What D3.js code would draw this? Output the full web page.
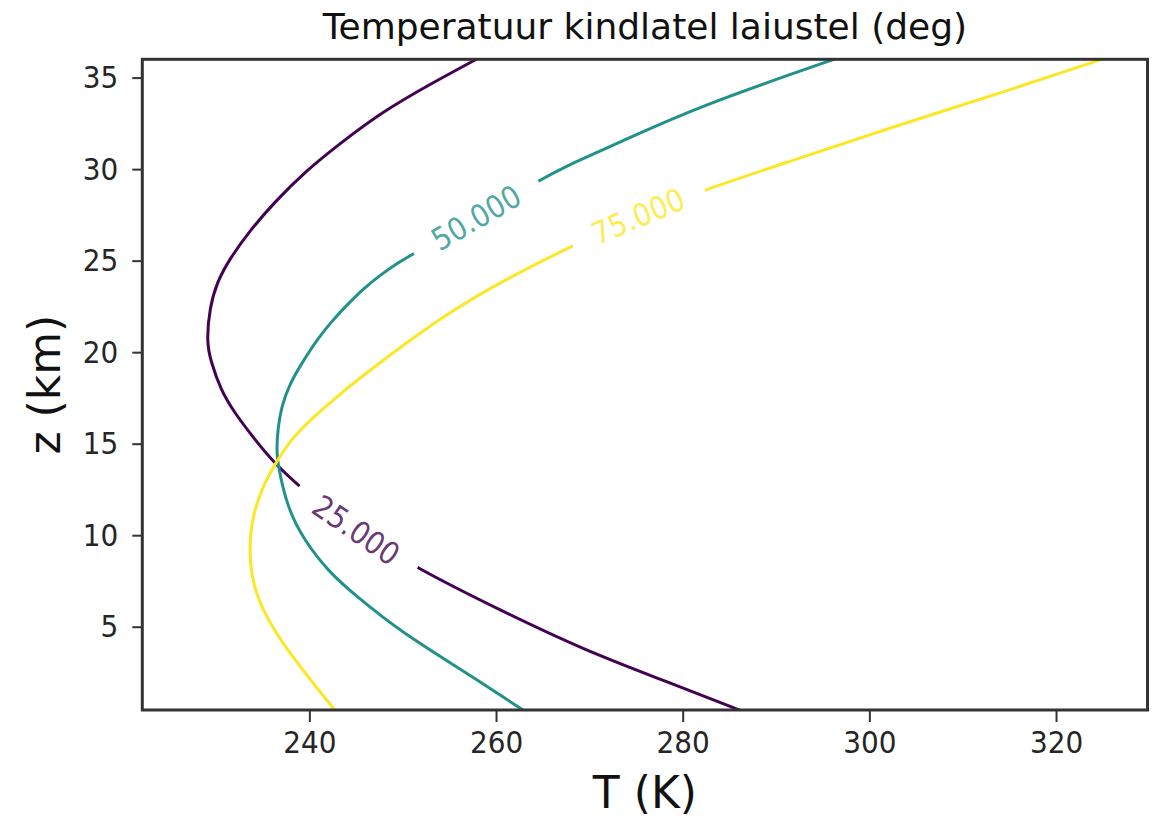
<!DOCTYPE html>
<html>
<head>
<meta charset="utf-8">
<script src="https://cdn.jsdelivr.net/npm/d3@7"></script>
<style>
  body { margin: 0; background: #fff; }
  text { font-family: "DejaVu Sans", sans-serif; }
  .num { font-family: "DejaVu Sans Condensed", "Liberation Sans", sans-serif; }
</style>
</head>
<body>
<svg width="1154" height="817"></svg>
<script>
// contour levels
var levels = [25, 50, 75];
var levelLabels = ["25.000", "50.000", "75.000"];
var colors = ["#440154", "#21918c", "#fde725"];

// T (K) and z (km) along each contour line, top to bottom
var t25 = [258.1, 252.7, 247.8, 243.5, 239.5, 236.3, 233.5, 231.5, 230.1, 229.3, 229.0, 229.4, 230.5, 232.0, 234.2, 236.1, 239.4, 244.8, 251.7, 260.4, 269.4, 278.3, 286.6];
var z25 = [36.06, 34.58, 33.12, 31.49, 29.85, 28.21, 26.57, 25.12, 23.84, 22.39, 20.56, 19.57, 17.93, 16.67, 15.20, 14.01, 12.43, 10.28, 8.14, 5.91, 3.73, 2.00, 0.34];

var t50 = [297.0, 281.4, 273.1, 266.9, 264.4, 257.9, 251.3, 249.4, 247.6, 245.8, 244.0, 242.2, 240.8, 239.4, 237.9, 237.0, 236.6, 236.5, 236.6, 237.6, 239.4, 242.2, 245.1, 250.0, 256.9, 263.2];
var z50 = [36.14, 33.38, 31.42, 30.03, 29.30, 27.36, 25.42, 24.85, 24.21, 23.48, 22.57, 21.57, 20.66, 19.57, 18.29, 17.02, 15.74, 14.65, 13.92, 11.55, 9.74, 7.92, 6.64, 4.64, 2.46, 0.34];

var t75 = [325.7, 315.0, 302.4, 291.9, 282.7, 275.0, 268.7, 260.8, 255.4, 250.8, 246.5, 242.9, 239.7, 238.1, 236.5, 234.9, 233.9, 233.5, 234.0, 236.9, 242.9];
var z75 = [36.14, 34.31, 32.29, 30.49, 28.94, 27.43, 25.94, 23.93, 22.30, 20.66, 19.02, 17.56, 16.11, 15.25, 14.05, 12.58, 11.01, 9.19, 6.83, 4.11, 0.34];

// height (km) where each inline label sits
var labelZ = [10.28, 27.36, 27.43];

var xTicks = [240, 260, 280, 300, 320];
var yTicks = [5, 10, 15, 20, 25, 30, 35];
var xDomain = [222.1, 329.8];
var yDomain = [0.45, 36];

var svg = d3.select("svg"),
    margin = {top: 59.3, right: 6.5, bottom: 107, left: 142.3},
    width = +svg.attr("width") - margin.left - margin.right,
    height = +svg.attr("height") - margin.top - margin.bottom;

var x = d3.scaleLinear().domain(xDomain).range([0, width]);
var y = d3.scaleLinear().domain(yDomain).range([height, 0]);

var g = svg.append("g")
    .attr("transform", "translate(" + margin.left + "," + margin.top + ")");

g.append("clipPath").attr("id", "clip")
  .append("rect").attr("width", width).attr("height", height);

var contours = [
  {t: t25, z: z25},
  {t: t50, z: z50},
  {t: t75, z: z75}
].map(function(c, i) {
  return {
    level: levels[i],
    label: levelLabels[i],
    color: colors[i],
    labelZ: labelZ[i],
    points: c.t.map(function(t, j) { return [t, c.z[j]]; })
  };
});

// b-spline smooths out the reading noise
var line = d3.line()
    .x(function(d) { return x(d[0]); })
    .y(function(d) { return y(d[1]); })
    .curve(d3.curveBasis);

var lines = g.append("g").attr("clip-path", "url(#clip)");

contours.forEach(function(c) {
  var path = lines.append("path")
      .attr("d", line(c.points))
      .attr("fill", "none")
      .attr("stroke", c.color)
      .attr("stroke-width", 3);

  var node = path.node();
  var total = node.getTotalLength();

  // find the length along the path where the label goes
  var ty = y(c.labelZ), best = 0, bestD = Infinity;
  for (var s = 0; s <= total; s += 0.5) {
    var p = node.getPointAtLength(s);
    if (Math.abs(p.y - ty) < bestD) { bestD = Math.abs(p.y - ty); best = s; }
  }

  var txt = g.append("text")
      .attr("class", "num")
      .attr("font-size", 31)
      .attr("fill", c.color)
      .attr("fill-opacity", 0.8)
      .attr("text-anchor", "middle")
      .attr("dy", "0.36em")
      .text(c.label);

  var gap = txt.node().getComputedTextLength() + 46;
  var a = node.getPointAtLength(Math.max(0, best - gap / 2)),
      b = node.getPointAtLength(Math.min(total, best + gap / 2)),
      m = node.getPointAtLength(best);
  var ang = Math.atan2(b.y - a.y, b.x - a.x) * 180 / Math.PI;
  if (ang > 90) ang -= 180;
  if (ang < -90) ang += 180;

  txt.attr("transform", "translate(" + m.x + "," + m.y + ") rotate(" + ang + ")");
  path.attr("stroke-dasharray", (best - gap / 2) + " " + gap + " " + total);
});

// axes
var xAxis = g.append("g")
    .attr("transform", "translate(0," + height + ")")
    .call(d3.axisBottom(x).tickValues(xTicks).tickSize(12).tickPadding(9));

var yAxis = g.append("g")
    .call(d3.axisLeft(y).tickValues(yTicks).tickSize(10).tickPadding(14));

[xAxis, yAxis].forEach(function(ax) {
  ax.select(".domain").remove();
  ax.selectAll("line").attr("stroke", "#333").attr("stroke-width", 2);
  ax.selectAll("text")
    .attr("class", "num")
    .attr("font-size", 31)
    .attr("fill", "#262626");
});

// frame
g.append("rect")
    .attr("width", width)
    .attr("height", height)
    .attr("fill", "none")
    .attr("stroke", "#333")
    .attr("stroke-width", 3);

svg.append("text")
    .attr("x", margin.left + width / 2)
    .attr("y", 39)
    .attr("text-anchor", "middle")
    .attr("font-size", 36)
    .attr("fill", "#111")
    .text("Temperatuur kindlatel laiustel (deg)");

svg.append("text")
    .attr("x", margin.left + width / 2)
    .attr("y", 808)
    .attr("text-anchor", "middle")
    .attr("font-size", 44)
    .attr("fill", "#111")
    .text("T (K)");

svg.append("text")
    .attr("transform", "translate(60," + (margin.top + height / 2) + ") rotate(-90)")
    .attr("text-anchor", "middle")
    .attr("font-size", 44)
    .attr("fill", "#111")
    .text("z (km)");
</script>
</body>
</html>
